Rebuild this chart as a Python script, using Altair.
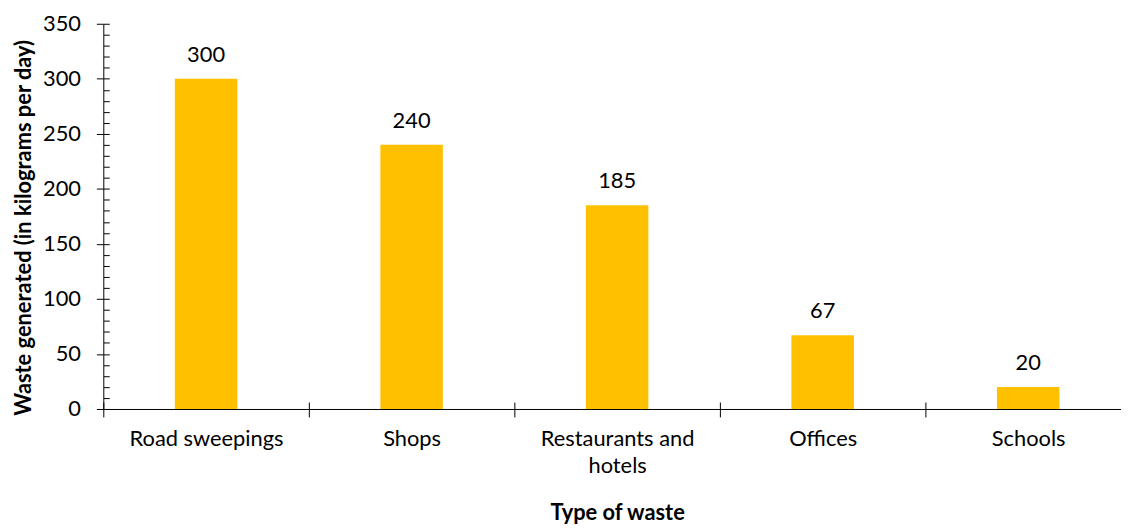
import altair as alt
import pandas as pd

categories = ["Road sweepings", "Shops", "Restaurants and\nhotels", "Offices", "Schools"]
values = [300, 240, 185, 67, 20]
y_major_ticks = [0, 50, 100, 150, 200, 250, 300, 350]
y_minor_ticks = [0, 10, 20, 30, 40, 50, 60, 70, 80, 90, 100, 110, 120, 130, 140, 150,
                 160, 170, 180, 190, 200, 210, 220, 230, 240, 250, 260, 270, 280, 290,
                 300, 310, 320, 330, 340, 350]

df = pd.DataFrame({"type": categories, "waste": values})

FONT = "Lato"
BAR_COLOR = "#FFC000"
INK = "#000000"
LABEL_SIZE = 22
TITLE_SIZE = 22

x_scale = alt.Scale(paddingInner=0, paddingOuter=0)
y_scale = alt.Scale(domain=[0, 350], nice=False, zero=True)

x_main_axis = alt.Axis(
    orient="bottom", title="Type of waste", tickBand="extent", labelAngle=0,
    labelExpr="split(datum.label, '\\n')", labelLineHeight=27,
    tickSize=8, tickColor=INK, domainColor=INK, labelColor=INK,
    labelFont=FONT, labelFontSize=LABEL_SIZE, labelPadding=12,
    titleFont=FONT, titleFontSize=TITLE_SIZE, titleFontWeight="bold", titleColor=INK,
    titleY=94, titleX=517.5, grid=False,
)
y_main_axis = alt.Axis(
    orient="left", title="Waste generated (in kilograms per day)", values=y_major_ticks,
    tickSize=7, tickColor=INK, domainColor=INK, labelColor=INK,
    labelFont=FONT, labelFontSize=LABEL_SIZE, labelPadding=16,
    titleFont=FONT, titleFontSize=TITLE_SIZE, titleFontWeight="bold", titleColor=INK,
    titleBaseline="alphabetic", titleX=-73, titleY=205, grid=False,
)

bars = alt.Chart(df).mark_bar(color=BAR_COLOR, width=alt.RelativeBandSize(0.304)).encode(
    x=alt.X("type:N", sort=categories, scale=x_scale, axis=x_main_axis),
    y=alt.Y("waste:Q", scale=y_scale, axis=y_main_axis),
)

labels = alt.Chart(df).mark_text(
    font=FONT, fontSize=LABEL_SIZE, color=INK, baseline="alphabetic", dy=-17
).encode(
    x=alt.X("type:N", sort=categories, scale=x_scale,
            axis=alt.Axis(orient="bottom", title=None, labels=False, domain=False,
                          tickBand="extent", tickSize=7, offset=-7, tickColor=INK, grid=False)),
    y=alt.Y("waste:Q", scale=y_scale,
            axis=alt.Axis(orient="left", title=None, labels=False, domain=False,
                          values=y_minor_ticks, tickSize=6, offset=-6, tickColor=INK, grid=False)),
    text=alt.Text("waste:Q"),
)

chart = (
    alt.layer(bars, labels)
    .resolve_axis(x="independent", y="independent")
    .properties(
        width=1035, height=388,
        autosize=alt.AutoSizeParams(type="none"),
        padding={"left": 96, "top": 14, "right": -10, "bottom": 120},
        background="white",
    )
    .configure_view(stroke=None)
)

chart.save("out.html", embed_options={"renderer": "svg", "actions": False})
